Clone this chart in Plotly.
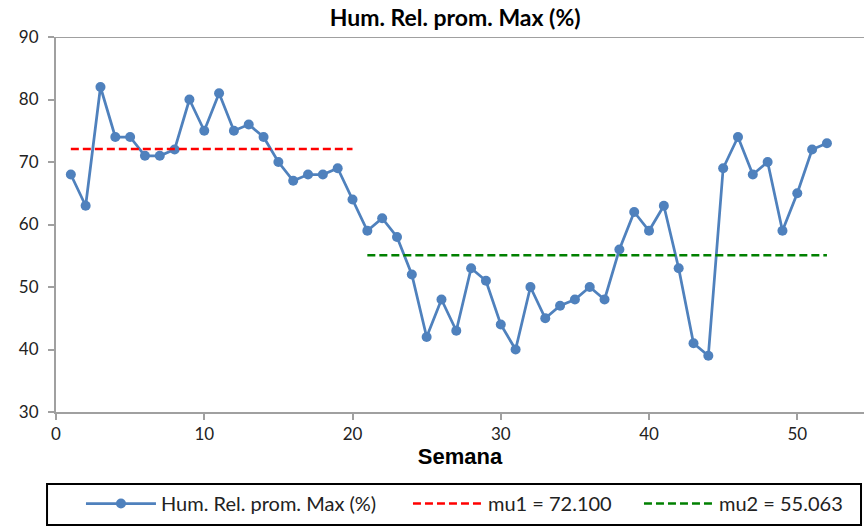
import plotly.graph_objects as go

weeks = list(range(1, 53))
hum_max = [68, 63, 82, 74, 74, 71, 71, 72, 80, 75, 81, 75, 76, 74, 70, 67, 68, 68, 69, 64,
           59, 61, 58, 52, 42, 48, 43, 53, 51, 44, 40, 50, 45, 47, 48, 50, 48, 56, 62, 59,
           63, 53, 41, 39, 69, 74, 68, 70, 59, 65, 72, 73]
mu1 = 72.1
mu2 = 55.063
mu1_x = [1, 20]
mu2_x = [21, 52]
x_ticks = [0, 10, 20, 30, 40, 50]
y_ticks = [30, 40, 50, 60, 70, 80, 90]

tick_font = dict(family="Lato, Open Sans, sans-serif", size=17, color="#222222")
legend_font = dict(family="Lato, Open Sans, sans-serif", size=20, color="#222222")

fig = go.Figure()
fig.add_trace(go.Scatter(
    x=weeks, y=hum_max, mode="lines+markers", name="Hum. Rel. prom. Max (%)",
    legend="legend",
    line=dict(color="#4F81BD", width=2.75),
    marker=dict(color="#4F81BD", size=10),
))
fig.add_trace(go.Scatter(
    x=mu1_x, y=[mu1, mu1], mode="lines", name=f"mu1 = {mu1:.3f}",
    legend="legend2",
    line=dict(color="#FF0000", width=2.5, dash="8px,4px"),
))
fig.add_trace(go.Scatter(
    x=mu2_x, y=[mu2, mu2], mode="lines", name=f"mu2 = {mu2:.3f}",
    legend="legend3",
    line=dict(color="#008000", width=2.5, dash="8px,4px"),
))

# top border of plot area
fig.add_shape(type="line", xref="paper", yref="y", x0=0, x1=1, y0=90, y1=90,
              line=dict(color="#A0A0A0", width=2))
# legend frame
fig.add_shape(type="rect", xref="paper", yref="paper", x0=-0.0111, x1=0.9963,
              y0=-0.3013, y1=-0.192, line=dict(color="black", width=2),
              fillcolor="rgba(0,0,0,0)", layer="below")


def leg(x):
    return dict(orientation="h", x=x, xanchor="left", y=-0.192, yanchor="top",
                borderwidth=0, bgcolor="rgba(0,0,0,0)", font=legend_font, itemwidth=70)


fig.update_layout(
    width=864, height=526,
    margin=dict(l=56, r=0, t=37, b=114, autoexpand=False),
    paper_bgcolor="white", plot_bgcolor="white",
    title=dict(text="<b>Hum. Rel. prom. Max (%)</b>", xref="paper", x=0.494, xanchor="center",
               y=0.966, yanchor="middle",
               font=dict(family="Lato, Open Sans, sans-serif", size=23, color="black")),
    xaxis=dict(range=[0, 54.5], tickvals=x_ticks, showgrid=False, zeroline=False,
               showline=True, linecolor="#A0A0A0", linewidth=2, automargin=False,
               ticks="outside", ticklen=6, tickcolor="#A0A0A0", tickwidth=2,
               tickfont=tick_font,
               title=dict(text="<b>Semana</b>", standoff=2,
                          font=dict(family="Liberation Sans, Arial, sans-serif", size=22, color="black"))),
    yaxis=dict(range=[30, 90], tickvals=y_ticks, showgrid=False, zeroline=False,
               showline=True, linecolor="#A0A0A0", linewidth=2, automargin=False,
               ticks="outside", ticklen=6, tickcolor="#A0A0A0", tickwidth=2,
               ticklabelstandoff=6,
               tickfont=tick_font),
    legend=leg(0.0309),
    legend2=leg(0.4356),
    legend3=leg(0.7215),
    showlegend=True,
)

fig.write_html("out.html", config={"displayModeBar": False},
               post_script="document.body.style.margin='0';")
